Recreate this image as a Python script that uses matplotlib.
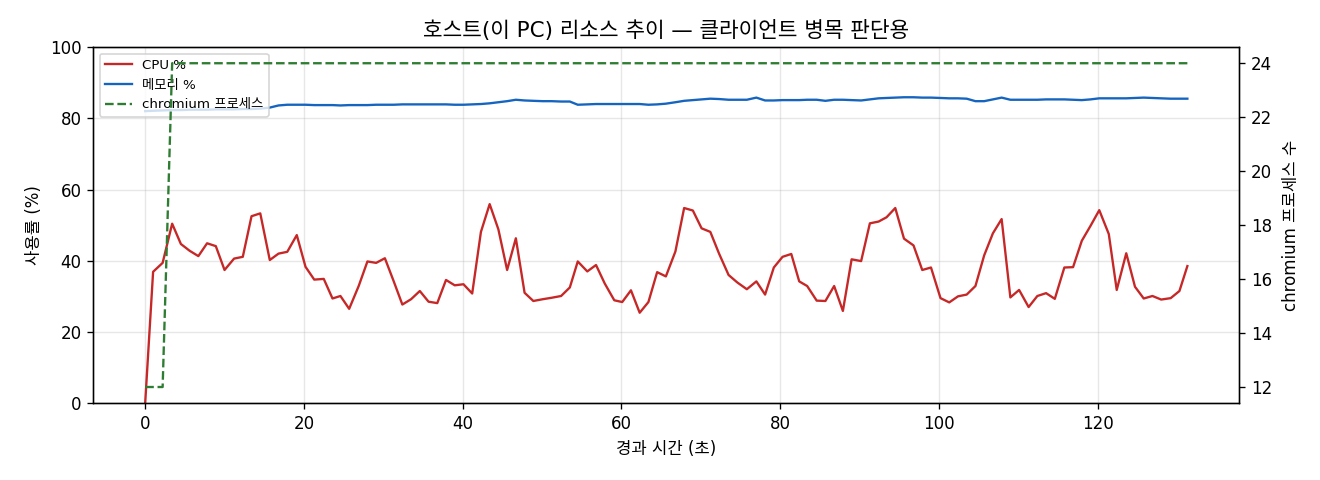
import matplotlib
matplotlib.use("Agg")
import matplotlib.pyplot as plt

plt.rcParams['font.family'] = ['DejaVu Sans', 'Noto Sans CJK KR']
plt.rcParams['axes.unicode_minus'] = False

times = [
    0.0, 1.0, 2.2, 3.4, 4.5, 5.6, 6.7, 7.8, 8.9, 10.0,
    11.2, 12.3, 13.4, 14.5, 15.7, 16.8, 17.9, 19.1, 20.2, 21.3,
    22.5, 23.6, 24.6, 25.7, 26.9, 28.0, 29.1, 30.2, 31.3, 32.4,
    33.5, 34.6, 35.7, 36.8, 37.9, 39.0, 40.1, 41.2, 42.3, 43.4,
    44.5, 45.6, 46.7, 47.8, 48.9, 50.1, 51.2, 52.4, 53.5, 54.5,
    55.7, 56.8, 57.9, 59.1, 60.1, 61.2, 62.3, 63.4, 64.5, 65.6,
    66.8, 67.9, 69.0, 70.1, 71.2, 72.3, 73.5, 74.6, 75.8, 77.0,
    78.1, 79.2, 80.3, 81.4, 82.4, 83.4, 84.6, 85.7, 86.8, 87.9,
    89.0, 90.2, 91.3, 92.4, 93.4, 94.5, 95.6, 96.8, 97.9, 99.0,
    100.2, 101.3, 102.4, 103.5, 104.6, 105.7, 106.8, 107.9, 109.0, 110.1,
    111.3, 112.4, 113.5, 114.6, 115.8, 116.9, 118.0, 119.1, 120.2, 121.4,
    122.4, 123.6, 124.7, 125.8, 126.9, 128.0, 129.2, 130.3, 131.3,
]

cpu_pct = [
    0.0, 36.9, 39.4, 50.4, 44.7, 42.8, 41.3, 44.9, 44.1, 37.4,
    40.6, 41.1, 52.5, 53.3, 40.2, 42.0, 42.5, 47.2, 38.3, 34.7,
    34.9, 29.4, 30.1, 26.5, 32.9, 39.8, 39.4, 40.7, 34.3, 27.7,
    29.2, 31.5, 28.5, 28.1, 34.6, 33.1, 33.4, 30.8, 48.1, 55.9,
    48.8, 37.4, 46.3, 31.0, 28.7, 29.2, 29.6, 30.1, 32.5, 39.8,
    37.0, 38.8, 33.6, 28.9, 28.4, 31.7, 25.4, 28.4, 36.8, 35.6,
    42.6, 54.8, 54.1, 49.1, 48.1, 42.0, 36.0, 33.9, 32.0, 34.2,
    30.5, 38.1, 41.1, 41.9, 34.2, 32.9, 28.8, 28.7, 32.9, 25.9,
    40.4, 39.9, 50.5, 51.0, 52.2, 54.8, 46.2, 44.3, 37.4, 38.1,
    29.5, 28.3, 30.0, 30.5, 32.9, 41.5, 47.7, 51.7, 29.7, 31.8,
    27.0, 30.1, 30.9, 29.3, 38.1, 38.2, 45.6, 49.8, 54.2, 47.5,
    31.8, 42.1, 32.7, 29.4, 30.1, 29.1, 29.5, 31.5, 38.5,
]

mem_pct = [
    82.0, 82.1, 82.2, 82.3, 82.3, 82.4, 82.4, 82.4, 82.5, 82.5,
    82.5, 82.6, 82.6, 82.7, 83.0, 83.6, 83.8, 83.8, 83.8, 83.7,
    83.7, 83.7, 83.6, 83.7, 83.7, 83.7, 83.8, 83.8, 83.8, 83.9,
    83.9, 83.9, 83.9, 83.9, 83.9, 83.8, 83.8, 83.9, 84.0, 84.2,
    84.5, 84.8, 85.2, 85.0, 84.9, 84.8, 84.8, 84.7, 84.7, 83.8,
    83.9, 84.0, 84.0, 84.0, 84.0, 84.0, 84.0, 83.8, 83.9, 84.1,
    84.5, 84.9, 85.1, 85.3, 85.5, 85.4, 85.2, 85.2, 85.2, 85.8,
    85.0, 85.0, 85.1, 85.1, 85.1, 85.2, 85.2, 84.9, 85.2, 85.2,
    85.1, 85.0, 85.3, 85.6, 85.7, 85.8, 85.9, 85.9, 85.8, 85.8,
    85.7, 85.6, 85.6, 85.5, 84.8, 84.8, 85.3, 85.8, 85.2, 85.2,
    85.2, 85.2, 85.3, 85.3, 85.3, 85.2, 85.1, 85.3, 85.6, 85.6,
    85.6, 85.6, 85.7, 85.8, 85.7, 85.6, 85.5, 85.5, 85.5,
]

chromium_procs = [12, 12, 12] + [24] * 116

fig = plt.figure(figsize=(11, 4), dpi=120)
ax = fig.add_axes([0.0705, 0.160, 0.8685, 0.742])
ax2 = ax.twinx()

l1, = ax.plot(times, cpu_pct, color='#c62828', lw=1.4, label='CPU %')
l2, = ax.plot(times, mem_pct, color='#1565c0', lw=1.4, label='메모리 %')
l3, = ax2.plot(times, chromium_procs, color='#2e7d32', lw=1.4, ls='--',
               label='chromium 프로세스')

ax.set_ylim(0, 100)
ax.grid(True, alpha=0.3)
ax.set_axisbelow(True)
ax.set_xlabel('경과 시간 (초)', fontsize=10)
ax.set_ylabel('사용률 (%)', fontsize=10)
ax2.set_ylabel('chromium 프로세스 수', fontsize=10, labelpad=6)
ax.set_title('호스트(이 PC) 리소스 추이 — 클라이언트 병목 판단용', fontsize=12.8)
ax.tick_params(labelsize=10)
ax2.tick_params(labelsize=10)

ax.legend(handles=[l1, l2, l3], loc='upper left', fontsize=8, framealpha=0.8)

fig.savefig('out.png', dpi=120)
